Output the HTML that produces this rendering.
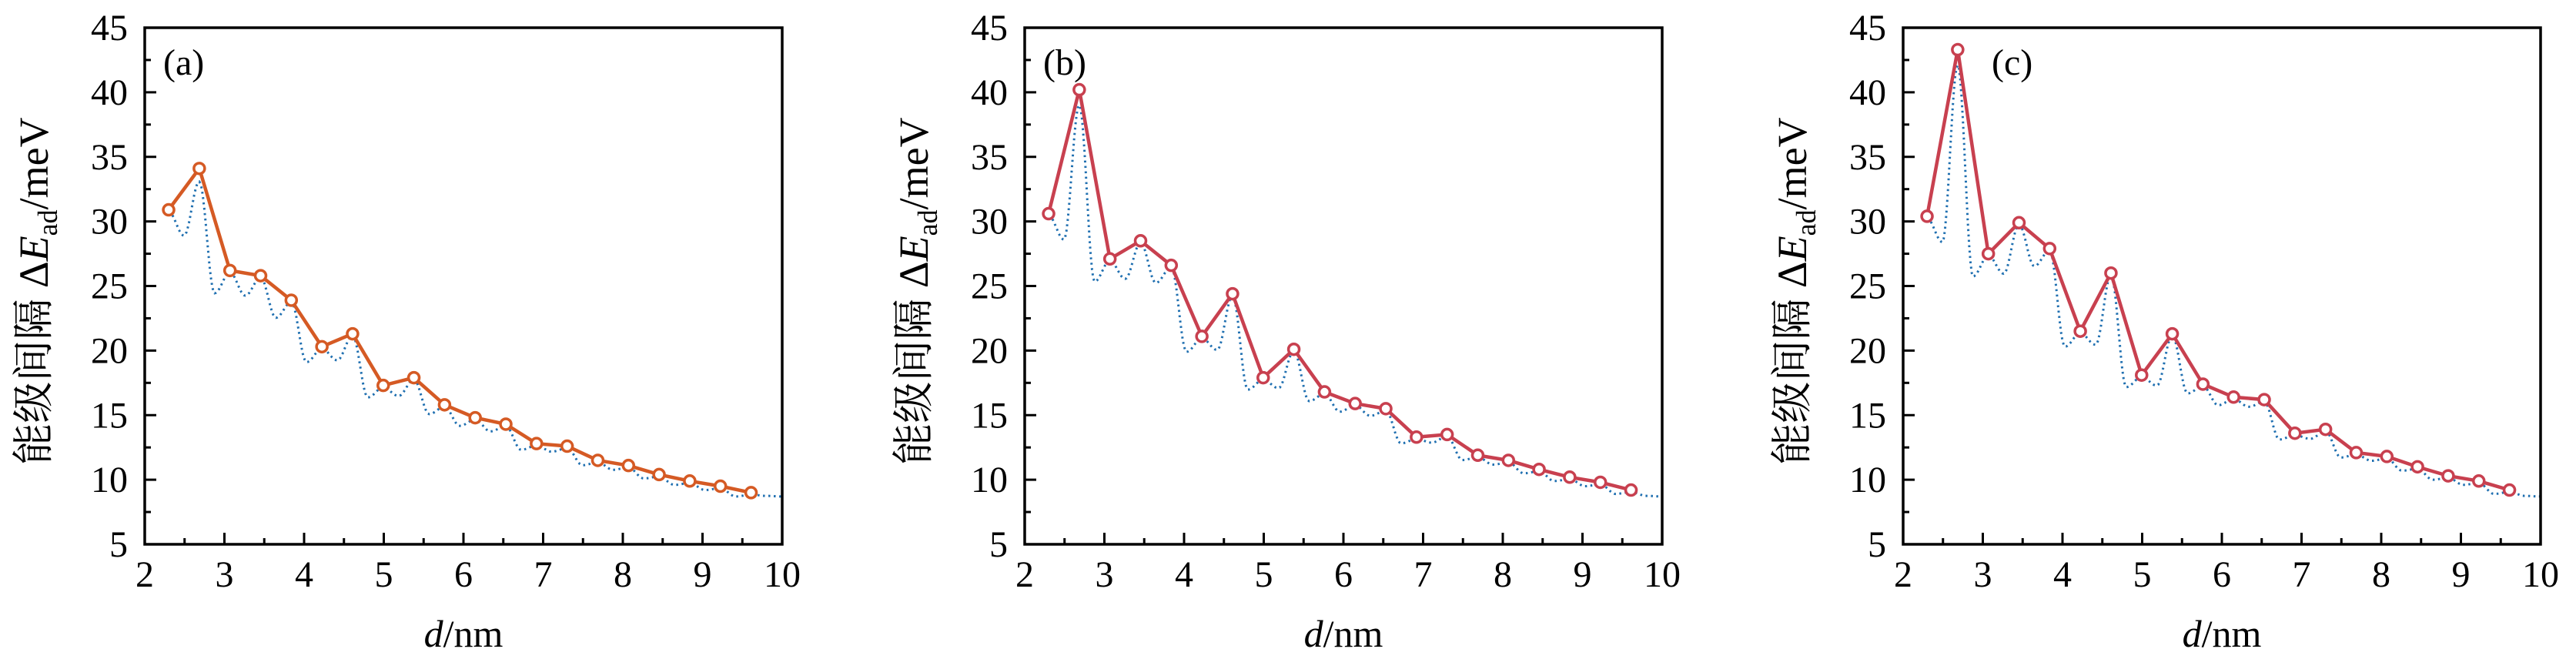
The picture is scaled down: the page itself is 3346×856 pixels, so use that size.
<!DOCTYPE html>
<html><head><meta charset="utf-8"><style>
html,body{margin:0;padding:0;background:#fff;}
svg{display:block}
text{font-family:"Liberation Serif","Noto Serif CJK SC",serif;fill:#000}
</style></head><body>
<svg id="s" width="3346" height="856" xmlns="http://www.w3.org/2000/svg"></svg>
<script>
const S=document.getElementById('s');
const NS='http://www.w3.org/2000/svg';
function el(t,a,txt){const e=document.createElementNS(NS,t);for(const k in a)e.setAttribute(k,a[k]);if(txt!==undefined)e.textContent=txt;S.appendChild(e);return e;}
const X0s=[188,1331,2472], W=828, T=36, B=707;
const xs=[];for(let i=0;i<20;i++)xs.push(2.3+i*0.3847);
const data=[
[30.9,34.1,26.2,25.8,23.9,20.3,21.3,17.3,17.9,15.8,14.8,14.3,12.8,12.6,11.5,11.1,10.4,9.9,9.5,9.0],
[30.6,40.2,27.1,28.5,26.6,21.1,24.4,17.9,20.1,16.8,15.9,15.5,13.3,13.5,11.9,11.5,10.8,10.2,9.8,9.2],
[30.4,43.3,27.5,29.9,27.9,21.5,26.0,18.1,21.3,17.4,16.4,16.2,13.6,13.9,12.1,11.8,11.0,10.3,9.9,9.2]];
const cols=['#d55a24','#c8404f','#c8404f'];
const labs=['(a)','(b)','(c)'];
const labX=[24,24,115];
for(let p=0;p<3;p++){
  const X0=X0s[p];
  const fx=x=>X0+(x-2)*W/8, fy=y=>B-(y-5)*(B-T)/40;
  const v=data[p];
  const nodes=[];
  for(let i=0;i<20;i++){
    nodes.push([xs[i],v[i]-(i==1?Math.min(1.2,v[i]*0.03):0.15)]);
    if(i<19){
      const depth=Math.max(0.3,2.0*Math.exp(-(xs[i]-2.3)/3));
      nodes.push([xs[i]+0.5*0.3847, Math.min(v[i],v[i+1])-depth]);
    }
  }
  nodes.push([9.8,8.75]);nodes.push([10,8.7]);
  let pts=[];
  for(let k=0;k<nodes.length-1;k++){
    const [a,ya]=nodes[k],[b,yb]=nodes[k+1];
    for(let j=0;j<12;j++){const t=j/12;const e=(1-Math.cos(Math.PI*t))/2;pts.push(fx(a+(b-a)*t).toFixed(1)+','+fy(ya+(yb-ya)*e).toFixed(1));}
  }
  pts.push(fx(10)+','+fy(8.7));
  el('polyline',{points:pts.join(' '),fill:'none',stroke:'#1f6fb0','stroke-width':3,'stroke-dasharray':'2.5 4.5'});
  el('polyline',{points:xs.map((x,i)=>fx(x).toFixed(1)+','+fy(v[i]).toFixed(1)).join(' '),fill:'none',stroke:cols[p],'stroke-width':4.5});
  xs.forEach((x,i)=>el('circle',{cx:fx(x),cy:fy(v[i]),r:7,fill:'#fff',stroke:cols[p],'stroke-width':3.5}));
  el('rect',{x:X0,y:T,width:W,height:B-T,fill:'none',stroke:'#000','stroke-width':3.5});
  for(let y=5;y<=45;y+=2.5){const maj=(y%5==0);
    el('line',{x1:X0,x2:X0+(maj?15:8),y1:fy(y),y2:fy(y),stroke:'#000','stroke-width':3});
    if(maj)el('text',{x:X0-22,y:fy(y)+16,'text-anchor':'end','font-size':48},String(y));}
  for(let x=2;x<=10;x+=0.5){const maj=(x%1==0);
    el('line',{x1:fx(x),x2:fx(x),y1:B,y2:B-(maj?15:8),stroke:'#000','stroke-width':3});
    if(maj)el('text',{x:fx(x),y:762,'text-anchor':'middle','font-size':48},String(x));}
  el('text',{x:X0+labX[p],y:97,'font-size':48},labs[p]);
  const xl=el('text',{x:X0+W/2,y:840,'text-anchor':'middle','font-size':50});
  xl.innerHTML='<tspan font-style="italic">d</tspan>/nm';
  const yl=el('text',{x:0,y:0,'text-anchor':'middle','font-size':54,transform:`translate(${X0-126},378) rotate(-90)`});
  yl.innerHTML='能级间隔 Δ<tspan font-style="italic">E</tspan><tspan font-size="36" dy="12">ad</tspan><tspan dy="-12">/meV</tspan>';
}
</script>
</body></html>
